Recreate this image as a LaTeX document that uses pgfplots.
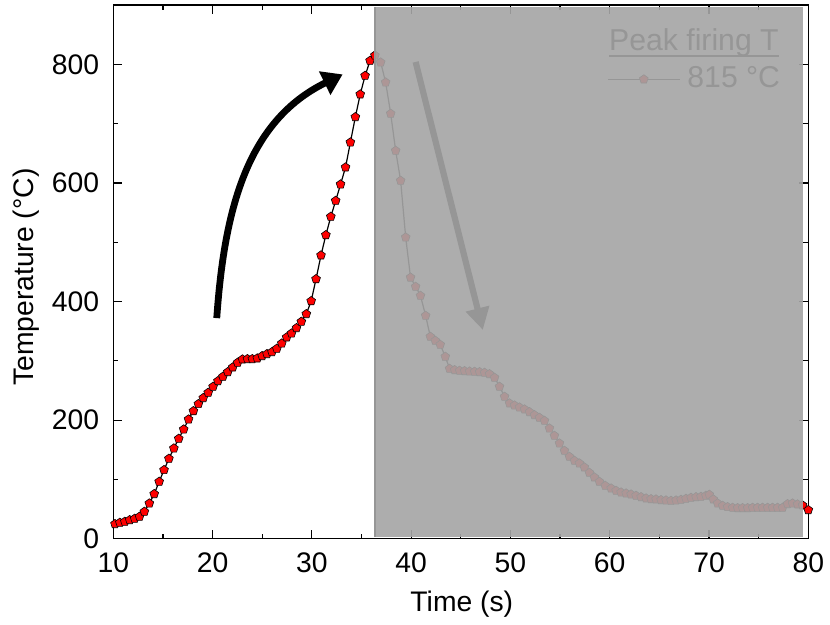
\documentclass[border=0pt]{standalone}
\usepackage{fontspec}
\setmainfont{Liberation Sans}
\usepackage{pgfplots}
\usepackage{pgfplotstable}
\pgfplotsset{compat=1.18}
\usetikzlibrary{arrows.meta}

\definecolor{coolgray}{RGB}{165,165,165}
\definecolor{coolgrayedge}{RGB}{150,150,150}
\definecolor{markred}{RGB}{255,0,0}

% Firing profile: time (s) vs. temperature (degC)
\pgfplotstableread{
t T
10.17 24.8
10.66 27.0
11.16 28.7
11.65 31.5
12.15 33.8
12.64 37.2
13.13 45.6
13.63 59.6
14.12 75.4
14.62 96.2
15.11 115.9
15.60 135.0
16.10 152.4
16.59 168.7
17.09 184.4
17.58 201.3
18.07 215.3
18.57 227.2
19.06 237.3
19.56 246.3
20.05 256.4
20.54 265.9
21.04 273.3
21.53 281.1
22.03 289.0
22.52 296.9
23.01 302.5
23.51 303.0
24.00 303.0
24.50 304.2
24.99 308.1
25.48 311.5
25.98 314.8
26.47 320.5
26.97 329.4
27.46 339.6
27.95 346.3
28.45 355.3
28.94 366.0
29.44 378.9
29.93 400.8
30.42 437.9
30.92 477.9
31.41 512.1
31.91 543.1
32.40 570.0
32.89 597.6
33.39 626.3
33.88 668.4
34.38 711.1
34.87 749.4
35.36 780.8
35.86 806.1
36.35 815.0
36.93 803.3
37.43 769.6
37.94 716.8
38.44 654.4
38.94 603.8
39.45 508.2
39.94 440.5
40.45 425.0
40.94 409.8
41.46 376.1
41.93 340.7
42.43 334.0
42.93 327.2
43.44 307.0
43.87 286.7
44.38 284.5
44.88 283.4
45.38 282.8
45.88 282.2
46.39 281.7
46.89 281.1
47.39 280.0
47.89 277.7
48.40 271.6
48.90 256.4
49.41 239.5
49.91 228.3
50.41 224.9
50.91 221.5
51.42 218.2
51.92 213.7
52.42 208.6
52.92 204.1
53.43 199.0
53.93 186.1
54.43 173.7
54.94 160.8
55.44 148.4
55.94 138.3
56.45 131.6
56.95 127.1
57.45 120.4
57.95 111.3
58.46 103.5
58.96 96.1
59.55 89.4
60.14 84.9
60.64 81.0
61.14 78.2
61.65 76.5
62.15 74.8
62.65 72.6
63.16 70.3
63.66 68.1
64.16 66.9
64.66 66.4
65.17 65.3
65.67 64.7
66.17 64.1
66.68 64.7
67.18 65.8
67.68 67.5
68.19 69.2
68.69 70.3
69.19 70.9
69.69 72.6
70.03 74.3
70.43 66.4
70.87 59.6
71.37 55.7
71.87 53.5
72.38 52.3
72.88 51.8
73.38 51.8
73.89 51.8
74.39 52.3
74.89 52.3
75.39 52.3
75.90 52.3
76.40 52.3
76.90 52.3
77.41 52.3
77.91 58.5
78.41 59.6
78.92 58.0
79.42 56.3
80.00 48.4
}\firing

\begin{document}
\fontsize{28.3}{34}\selectfont
\begin{tikzpicture}
\path[use as bounding box] (-113.3pt,-85.3pt) rectangle (716.7pt,538.7pt);
\begin{axis}[
  scale only axis, width=695pt, height=533.7pt,
  xmin=10, xmax=80, ymin=0, ymax=900,
  xtick={10,20,...,80}, ytick={0,200,...,800},
  minor x tick num=1, minor y tick num=1,
  tick align=inside, major tick length=9pt, minor tick length=5pt,
  every tick/.style={black, line width=1.2pt},
  axis line style={line width=1.5pt},
  xticklabel style={yshift=-4.5pt},
  yticklabel style={xshift=-4.5pt},
  /pgf/number format/assume math mode=true,
  xlabel={Time (s)}, ylabel={Temperature (°C)},
  xlabel style={at={(axis description cs:0.5015,-0.1355)}, anchor=base},
  ylabel style={at={(axis description cs:-0.144,0.49)}, anchor=north, inner sep=0pt},
  legend style={at={(axis description cs:0.7104,0.8608)}, anchor=west,
    draw=none, fill=none, inner sep=0pt, nodes={inner sep=0pt}, column sep=7pt,
    font=\fontsize{30.2}{36}\selectfont},
  legend image code/.code={
    \draw[mark repeat=2, mark phase=2, #1] plot coordinates {(0pt,0pt) (36pt,0pt) (72pt,0pt)};},
]
\addplot[black, line width=1.2pt, mark=pentagon*, mark size=4.6pt,
  mark options={fill=markred, draw=black, line width=0.6pt}] table[x=t, y=T] {\firing};
\addlegendentry{815 °C}

% legend heading
\node[anchor=base west, inner sep=0pt, font=\fontsize{30.2}{36}\selectfont] (ttl)
  at (rel axis cs:0.7132,0.9157) {Peak firing T};
\draw[line width=1.5pt] ([yshift=-6pt]ttl.base west) -- ([yshift=-6pt]ttl.base east);

% heating and cooling arrows
\draw[line width=6.8pt, -{Triangle[length=20pt,width=25pt]}]
  (axis cs:20.42,372) to[out=86,in=206] (axis cs:33.1,783);
\draw[line width=6.2pt, -{Triangle[length=22pt,width=23pt]}]
  (axis cs:40.45,804) -- (axis cs:47.22,352);

\coordinate (ovsw) at (rel axis cs:0.3765,0.0037);
\coordinate (ovne) at (rel axis cs:0.9928,0.9957);
\end{axis}
% cooling stage shaded
\fill[coolgray, fill opacity=0.91] (ovsw) rectangle (ovne);
\draw[coolgrayedge, line width=1.6pt] (ovsw) -- (ovsw |- ovne);
\end{tikzpicture}
\end{document}
